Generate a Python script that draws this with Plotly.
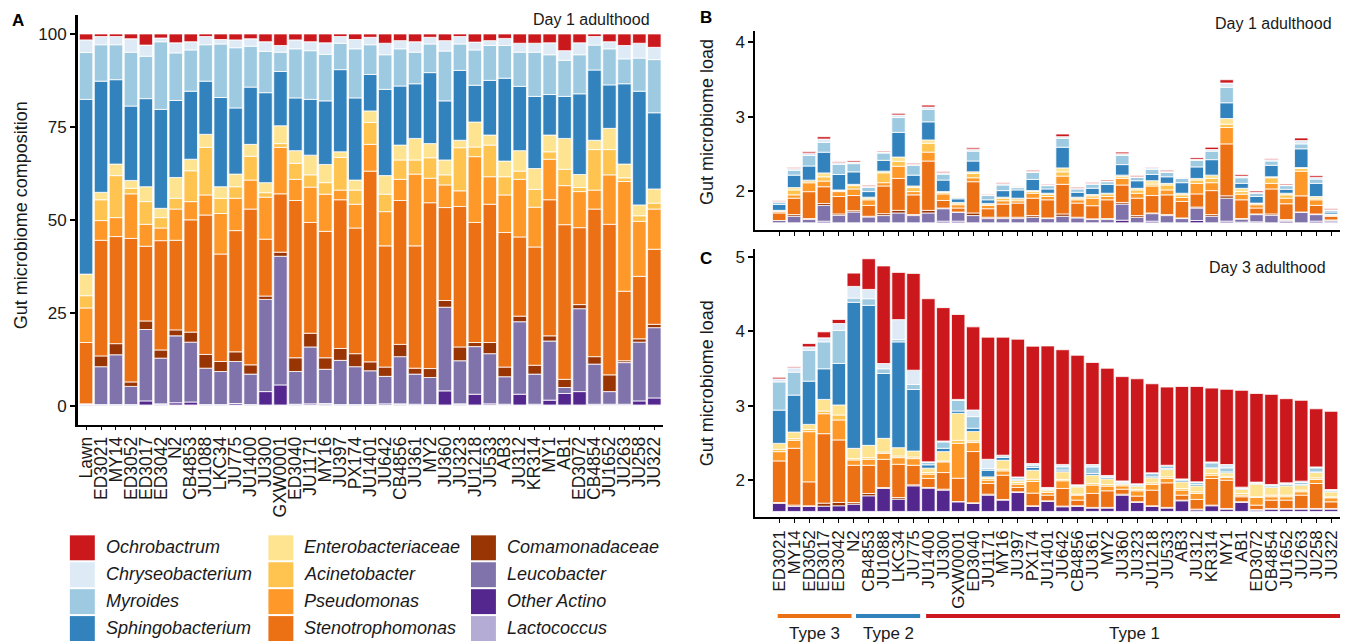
import numpy as np
import plotly.graph_objects as go

W, H = 1353, 644
OFF = 8  # default page margin of the html body
FONT = "Liberation Sans, Arial, sans-serif"

strains = ["ED3021", "MY14", "ED3052", "ED3017", "ED3042", "N2", "CB4853", "JU1088", "LKC34", "JU775",
           "JU1400", "JU300", "GXW0001", "ED3040", "JU1171", "MY16", "JU397", "PX174", "JU1401", "JU642",
           "CB4856", "JU361", "MY2", "JU360", "JU323", "JU1218", "JU533", "AB3", "JU312", "KR314",
           "MY1", "AB1", "ED3072", "CB4854", "JU1652", "JU263", "JU258", "JU322"]
a_labels = ["Lawn"] + strains

# stacking order, bottom -> top
taxa = ["Lactococcus", "Other Actino", "Leucobacter", "Comamonadaceae", "Stenotrophomonas", "Pseudomonas",
        "Acinetobacter", "Enterobacteriaceae", "Sphingobacterium", "Myroides", "Chryseobacterium", "Ochrobactrum"]
colors = {
    "Ochrobactrum": "#cb181d", "Chryseobacterium": "#deebf7", "Myroides": "#9ecae1", "Sphingobacterium": "#3182bd",
    "Enterobacteriaceae": "#fee391", "Acinetobacter": "#fec44f", "Pseudomonas": "#fe9929", "Stenotrophomonas": "#ec7014",
    "Comamonadaceae": "#993404", "Leucobacter": "#8073ac", "Other Actino": "#54278f", "Lactococcus": "#b4acd4",
}

# ---------------- Panel A: relative composition (%), Day 1 ----------------
A_lacto = [0.5, 0.3, 0.3, 0.3, 0.2, 0.3, 0.2, 0.2, 0.3, 0.3, 0.2, 0.3, 0.2, 0.2, 0.3, 0.2, 0.3, 0.3, 0.3, 0.3,
           0.2, 0.3, 0.2, 0.2, 0.2, 0.3, 0.2, 0.2, 0.2, 0.2, 0.2, 0.2, 0.2, 0.2, 0.2, 0.2, 0.2, 0.2, 0.2]
A_other = [0, 0, 0, 0, 1.1, 0.2, 0.6, 0.8, 0, 0, 0.4, 0, 3.6, 5.4, 0.1, 0.3, 0.3, 0, 0, 0,
           0.3, 0.2, 0.2, 0.1, 3.8, 0.2, 2.9, 0.3, 0.2, 2.9, 0.2, 1.3, 3.1, 3.6, 0.2, 0.2, 0.2, 1.1, 1.9]
A_leuco = [0, 10.2, 13.4, 4.9, 19.2, 12.3, 18.0, 16.1, 9.8, 8.9, 11.3, 8.2, 24.8, 34.6, 8.8, 15.3, 9.2, 11.9, 10.2, 9.1,
           7.4, 12.7, 8.1, 7.3, 22.5, 11.6, 12.8, 13.5, 7.4, 19.5, 8.1, 15.9, 1.6, 22.3, 10.8, 3.4, 11.2, 15.8, 18.9]
A_com = [0, 2.9, 3.0, 1.2, 2.3, 2.2, 1.6, 2.7, 3.7, 2.7, 2.6, 2.5, 0.9, 1.1, 3.7, 3.7, 3.1, 3.2, 3.5, 2.4,
         2.5, 3.3, 1.6, 2.4, 1.8, 3.7, 1.1, 3.0, 2.6, 1.5, 2.4, 1.4, 2.2, 1.1, 2.0, 4.5, 0.5, 0.9, 0.9]
A_steno = [16.5, 31.1, 28.8, 38.6, 20.1, 29.4, 24.1, 30.2, 37.5, 28.9, 32.6, 41.9, 15.3, 15.7, 42.3, 29.8, 34.0, 40.0, 33.8, 51.3,
           32.6, 38.7, 32.9, 44.6, 25.0, 37.8, 32.3, 37.2, 36.2, 21.3, 31.8, 36.6, 41.6, 20.7, 39.7, 40.5, 18.7, 16.8, 20.2]
A_pseudo = [9.3, 5.3, 5.1, 12.0, 5.9, 3.4, 8.4, 4.9, 5.4, 10.9, 8.7, 7.8, 11.3, 12.5, 5.7, 9.5, 10.0, 2.6, 6.4, 7.2,
            9.2, 5.7, 19.3, 6.6, 6.1, 4.2, 17.7, 7.4, 10.1, 15.5, 10.7, 10.9, 10.5, 9.7, 5.1, 13.3, 29.5, 14.8, 10.8]
A_acin = [3.3, 5.6, 11.3, 1.5, 6.1, 2.8, 2.9, 8.3, 12.8, 4.1, 3.1, 6.4, 1.2, 1.0, 4.3, 3.3, 3.1, 8.8, 3.8, 5.9,
          4.7, 5.2, 3.8, 5.5, 2.7, 11.6, 2.6, 8.5, 4.9, 2.2, 4.8, 2.0, 4.4, 1.1, 10.9, 6.8, 1.0, 1.5, 1.6]
A_entero = [5.8, 2.0, 3.1, 2.1, 4.0, 2.5, 5.6, 3.1, 3.5, 3.1, 3.4, 3.2, 2.7, 4.8, 3.4, 5.3, 4.9, 1.5, 2.7, 3.1,
            5.0, 4.0, 5.8, 3.8, 4.0, 2.0, 6.7, 2.7, 4.2, 5.5, 5.6, 4.5, 8.3, 3.5, 2.5, 5.7, 3.7, 2.9, 3.8]
A_sphingo = [47.0, 29.9, 22.7, 20.0, 23.7, 26.6, 20.7, 18.3, 14.3, 24.0, 17.8, 15.4, 24.2, 14.6, 14.2, 15.0, 17.1, 22.1, 22.1, 9.8,
             23.2, 15.9, 14.7, 19.1, 15.9, 18.8, 9.9, 14.7, 22.3, 17.3, 19.4, 10.9, 11.3, 21.7, 18.9, 11.7, 21.6, 30.6, 20.5]
A_myro = [12.6, 9.8, 9.4, 14.5, 11.4, 18.2, 12.8, 11.1, 9.8, 14.4, 16.2, 11.0, 11.1, 5.2, 13.2, 13.1, 12.5, 7.1, 13.2, 8.0,
          9.3, 10.0, 8.5, 7.7, 13.4, 7.1, 9.5, 9.4, 8.8, 9.2, 11.9, 10.7, 9.7, 10.5, 6.7, 9.7, 6.7, 8.9, 14.3]
A_chry = [3.4, 2.2, 2.2, 3.6, 3.0, 1.0, 2.7, 2.2, 2.2, 1.2, 2.1, 2.0, 2.6, 1.8, 2.4, 2.4, 3.1, 1.8, 2.5, 2.0,
          3.1, 2.2, 2.8, 1.8, 2.8, 2.0, 2.1, 1.3, 1.9, 2.4, 2.4, 3.2, 2.6, 3.2, 2.3, 1.9, 3.6, 4.0, 3.3]
A_ochro = [1.6, 0.7, 0.7, 1.3, 3.0, 1.1, 2.4, 2.1, 0.7, 1.5, 1.6, 1.3, 2.1, 3.1, 1.6, 2.1, 2.4, 0.7, 1.5, 0.9,
           2.5, 1.8, 2.1, 0.9, 1.8, 0.7, 2.2, 1.8, 1.2, 2.5, 2.5, 2.4, 4.5, 2.4, 0.7, 2.1, 3.1, 2.5, 3.6]

# ---------------- Panel B: load (log10), Day 1 ----------------
B_other = [0, 0, 0, .022, 0, 0, 0, 0, 0, 0, 0, .022, .022, 0, 0, 0, 0, 0, 0, 0,
           0, 0, 0, .035, 0, .022, 0, 0, .031, 0, .022, .009, .013, 0, .022, 0, .022, .013]
B_leuco = [.031, .088, .044, .211, .101, .145, .079, .097, .132, .097, .132, .167, .119, .097, .057, .057, .057, .075, .057, .088,
           .066, .044, .044, .216, .075, .101, .097, .057, .167, .088, .308, .040, .097, .101, .009, .141, .088, .022]
B_com = [0, .022, .013, .026, .018, .018, .009, .026, .035, .013, .035, .009, .004, .035, .018, .018, .018, .022, .009, .031,
         .009, .009, .013, .022, .022, .009, .013, .009, .013, .022, .031, .009, .009, .018, .013, .004, .009, .004]
B_steno = [.101, .220, .360, .224, .233, .202, .145, .370, .427, .264, .660, .101, .053, .418, .114, .176, .189, .233, .242, .396,
           .189, .176, .251, .233, .233, .233, .264, .220, .176, .321, .695, .250, .079, .334, .211, .216, .114, .048]
B_pseudo = [.018, .044, .119, .075, .066, .088, .075, .044, .163, .044, .119, .088, .044, .053, .044, .044, .031, .066, .044, .110,
            .044, .101, .044, .088, .066, .128, .066, .053, .141, .106, .220, .075, .044, .075, .075, .330, .075, .013]
B_acin = [.013, .066, .026, .057, .013, .044, .022, .132, .066, .053, .119, .018, .022, .057, .018, .035, .026, .022, .031, .057,
          .022, .031, .035, .022, .044, .026, .066, .035, .044, .057, .044, .035, .018, .075, .044, .035, .022, .009]
B_entero = [.004, .031, .009, .053, .009, .018, .013, .022, .057, .022, .044, .013, .009, .022, .009, .013, .009, .013, .013, .053,
            .013, .018, .009, .022, .022, .044, .022, .022, .022, .044, .075, .044, .004, .013, .022, .013, .022, .009]
B_sphingo = [.079, .167, .189, .277, .207, .167, .075, .145, .330, .145, .242, .154, .048, .145, .048, .088, .110, .150, .057, .277,
             .066, .084, .119, .141, .101, .084, .088, .141, .154, .207, .211, .066, .088, .154, .053, .251, .176, .026]
B_myro = [.031, .066, .141, .132, .136, .110, .057, .097, .198, .132, .167, .079, .018, .132, .057, .075, .031, .092, .044, .119,
          .044, .053, .035, .123, .044, .070, .057, .057, .088, .114, .207, .075, .044, .057, .048, .066, .057, .022]
B_chry = [.013, .022, .031, .044, .022, .022, .013, .013, .035, .013, .031, .018, .009, .026, .009, .018, .009, .018, .009, .022,
          .009, .009, .009, .022, .009, .022, .018, .009, .013, .022, .057, .022, .013, .018, .009, .044, .022, .009]
B_ochro = [.009, .013, .018, .031, .013, .018, .013, .013, .022, .013, .026, .013, .004, .018, .009, .013, .004, .013, .009, .035,
           .013, .013, .013, .022, .013, .009, .013, .004, .022, .031, .044, .022, .018, .013, .013, .035, .022, .013]

# ---------------- Panel C: load (log10), Day 3 ----------------
C_other = [.107, .067, .067, .071, .076, .098, .210, .308, .165, .344, .313, .286, .129, .107, .219, .152, .254, .067, .134, .063,
           .067, .045, .045, .219, .121, .067, .045, .143, .022, .076, .031, .121, .018, .031, .031, .031, .031, .031]
C_com = [.013, .018, .009, .040, .045, .022, .031, .013, .022, .013, .009, .013, .004, .009, .013, .009, .009, .009, .009, .009,
         .009, .009, .009, .013, .009, .009, .009, .009, .009, .009, .009, .009, .009, .009, .009, .009, .009, .009]
C_steno = [.558, .763, .321, .933, .839, .500, .379, .379, .446, .263, .121, .223, .313, .688, .143, .326, .058, .170, .076, .237,
           .076, .188, .223, .067, .076, .210, .330, .067, .130, .357, .379, .067, .058, .112, .112, .179, .335, .089]
C_pseudo = [.125, .107, .674, .268, .268, .071, .080, .080, .089, .089, .058, .143, .469, .121, .045, .058, .045, .156, .036, .103,
            .067, .112, .063, .045, .071, .076, .058, .067, .080, .045, .036, .022, .103, .045, .045, .045, .054, .054]
C_acin = [.031, .022, .031, .036, .067, .018, .022, .018, .022, .022, .022, .013, .040, .022, .022, .022, .022, .031, .022, .018,
          .013, .022, .022, .022, .018, .022, .022, .022, .022, .022, .018, .022, .009, .022, .022, .022, .022, .013]
C_entero = [.080, .089, .067, .156, .134, .138, .165, .183, .112, .080, .058, .125, .362, .125, .022, .121, .031, .121, .018, .103,
            .098, .112, .076, .009, .045, .067, .098, .089, .080, .067, .045, .054, .170, .103, .125, .067, .071, .067]
C_sphingo = [.446, .496, .580, .411, .558, 1.960, 1.880, .871, 1.420, .826, .045, .045, .031, .045, .089, .036, .013, .036, .009, .022,
             .009, .022, .018, .013, .013, .013, .013, .022, .018, .009, .013, .013, .009, .018, .018, .009, .009, .013]
C_myro = [.379, .308, .415, .362, .442, .058, .089, .063, .031, .067, .031, .085, .143, .156, .022, .022, .022, .031, .009, .045,
          .009, .089, .018, .013, .009, .045, .036, .009, .027, .067, .054, .009, .009, .013, .013, .027, .054, .009]
C_chry = [.040, .058, .045, .054, .094, .156, .125, .071, .268, .192, .009, .013, .013, .089, .125, .009, .009, .022, .009, .031,
          .009, .031, .009, .009, .009, .009, .009, .009, .009, .013, .045, .009, .009, .009, .009, .018, .013, .009]
C_ochro = [.022, .013, .045, .080, .054, .179, .411, 1.310, .634, 1.300, 2.190, 1.790, 1.140, 1.116, 1.640, 1.585, 1.850, 1.576, 1.900, 1.540,
           1.740, 1.370, 1.440, 1.400, 1.410, 1.196, 1.050, 1.240, 1.280, .991, 1.010, 1.300, 1.190, 1.210, 1.130, 1.085, .780, 1.050]

LOAD_BASE = 1.58  # lower end of the load bars (log10 scale)

A_data = {"Lactococcus": A_lacto, "Other Actino": A_other, "Leucobacter": A_leuco, "Comamonadaceae": A_com,
          "Stenotrophomonas": A_steno, "Pseudomonas": A_pseudo, "Acinetobacter": A_acin, "Enterobacteriaceae": A_entero,
          "Sphingobacterium": A_sphingo, "Myroides": A_myro, "Chryseobacterium": A_chry, "Ochrobactrum": A_ochro}
B_data = {"Other Actino": B_other, "Leucobacter": B_leuco, "Comamonadaceae": B_com,
          "Stenotrophomonas": B_steno, "Pseudomonas": B_pseudo, "Acinetobacter": B_acin, "Enterobacteriaceae": B_entero,
          "Sphingobacterium": B_sphingo, "Myroides": B_myro, "Chryseobacterium": B_chry, "Ochrobactrum": B_ochro}
C_data = {"Other Actino": C_other, "Comamonadaceae": C_com,
          "Stenotrophomonas": C_steno, "Pseudomonas": C_pseudo, "Acinetobacter": C_acin, "Enterobacteriaceae": C_entero,
          "Sphingobacterium": C_sphingo, "Myroides": C_myro, "Chryseobacterium": C_chry, "Ochrobactrum": C_ochro}

fig = go.Figure()


def add_panel(xa, ya, cats, data, base0):
    cum = np.full(len(cats), base0, dtype=float)
    for name in taxa:
        if name not in data:
            continue
        vals = np.asarray(data[name], dtype=float)
        fig.add_trace(go.Bar(
            x=cats, y=vals, base=cum.copy(), xaxis=xa, yaxis=ya, name=name, width=0.9,
            marker=dict(color=colors[name], line=dict(color="white", width=0.8)),
            showlegend=False, hoverinfo="x+y+name"))
        cum = cum + vals


add_panel("x", "y", a_labels, A_data, 0.0)
add_panel("x2", "y2", strains, B_data, LOAD_BASE)
add_panel("x3", "y3", strains, C_data, LOAD_BASE)


# screen pixel -> paper coordinates (figure sits OFF px from the page's top-left corner)
def px(x):
    return (x - OFF) / (W - OFF)


def py(y):
    return (H - y) / (H - OFF)


axis_common = dict(showline=True, linecolor="black", linewidth=2, showgrid=False, zeroline=False,
                   tickfont=dict(family=FONT, size=17, color="#1a1a1a"), tickcolor="black")

fig.update_layout(
    width=W - OFF, height=H - OFF, margin=dict(l=0, r=0, t=0, b=0),
    paper_bgcolor="white", plot_bgcolor="white", barmode="overlay",
    font=dict(family=FONT, color="#1a1a1a"),
    xaxis=dict(axis_common, domain=[px(76), px(662)], anchor="y", type="category", categoryorder="array",
               categoryarray=a_labels, range=[-0.55, 38.55], ticks="outside", ticklen=3, tickwidth=1,
               tickangle=-90, tickmode="array", tickvals=a_labels, ticktext=a_labels,
               tickfont=dict(family=FONT, size=17.5, color="#1a1a1a")),
    yaxis=dict(axis_common, domain=[py(424), py(13)], anchor="x", range=[-5.1, 105.1],
               tickvals=[0, 25, 50, 75, 100], ticks="outside", ticklen=5, tickwidth=2, linewidth=2.5),
    xaxis2=dict(axis_common, domain=[px(755), px(1341)], anchor="y2", type="category", categoryorder="array",
                categoryarray=strains, range=[-1.6, 37.6], ticks="outside", ticklen=4, tickwidth=1,
                tickmode="array", tickvals=strains, showticklabels=False),
    yaxis2=dict(axis_common, domain=[py(229), py(29)], anchor="x2", range=[1.48, 4.147],
                tickvals=[2, 3, 4], ticks="outside", ticklen=5, tickwidth=2),
    xaxis3=dict(axis_common, domain=[px(755), px(1341)], anchor="y3", type="category", categoryorder="array",
                categoryarray=strains, range=[-1.6, 37.6], ticks="outside", ticklen=4, tickwidth=1, tickangle=-90,
                tickmode="array", tickvals=strains, ticktext=strains,
                tickfont=dict(family=FONT, size=17, color="#1a1a1a")),
    yaxis3=dict(axis_common, domain=[py(517), py(248)], anchor="x3", range=[1.50, 5.10],
                tickvals=[2, 3, 4, 5], ticks="outside", ticklen=5, tickwidth=2),
)

ann = []
# panel letters
for letter, x, y in [("A", 16, 19), ("B", 706, 16), ("C", 706, 257)]:
    ann.append(dict(text=f"<b>{letter}</b>", x=px(x), y=py(y), xref="paper", yref="paper", showarrow=False,
                    xanchor="center", yanchor="middle", font=dict(family=FONT, size=17, color="black")))
# panel subtitles
for txt, x, y in [("Day 1 adulthood", 651, 18), ("Day 1 adulthood", 1335, 22), ("Day 3 adulthood", 1329, 266)]:
    ann.append(dict(text=txt, x=px(x), y=py(y), xref="paper", yref="paper", showarrow=False,
                    xanchor="right", yanchor="middle", font=dict(family=FONT, size=16, color="#1a1a1a")))
# y-axis titles
for txt, x, y in [("Gut microbiome composition", 19, 214), ("Gut microbiome load", 706, 120),
                  ("Gut microbiome load", 706, 382)]:
    ann.append(dict(text=txt, x=px(x), y=py(y), xref="paper", yref="paper", showarrow=False, textangle=-90,
                    xanchor="center", yanchor="middle", font=dict(family=FONT, size=18, color="#1a1a1a")))

shapes = []
# legend (3 columns x 4 rows)
legend_cols = [["Ochrobactrum", "Chryseobacterium", "Myroides", "Sphingobacterium"],
               ["Enterobacteriaceae", "Acinetobacter", "Pseudomonas", "Stenotrophomonas"],
               ["Comamonadaceae", "Leucobacter", "Other Actino", "Lactococcus"]]
col_x = [68, 267, 470]
for ci, col in enumerate(legend_cols):
    for ri, name in enumerate(col):
        top = 535 + ri * 27
        shapes.append(dict(type="rect", xref="paper", yref="paper", x0=px(col_x[ci]), x1=px(col_x[ci] + 25),
                           y0=py(top + 25), y1=py(top), fillcolor=colors[name], line=dict(width=0)))
        ann.append(dict(text=f"<i>{name}</i>", x=px(col_x[ci] + 34), y=py(top + 12), xref="paper", yref="paper",
                        showarrow=False, xanchor="left", yanchor="middle",
                        font=dict(family=FONT, size=18, color="#1a1a1a")))

# strain-type brackets under panel C
types = [("Type 3", -0.1, 4.85, "#ec7014"), ("Type 2", 5.15, 9.45, "#3182bd"), ("Type 1", 9.85, 37.8, "#cb181d")]
for label, x0, x1, col in types:
    shapes.append(dict(type="line", xref="x3", yref="paper", x0=x0, x1=x1, y0=py(616), y1=py(616),
                       line=dict(color=col, width=4)))
    ann.append(dict(text=label, x=(x0 + x1) / 2, y=py(633), xref="x3", yref="paper", showarrow=False,
                    xanchor="center", yanchor="middle", font=dict(family=FONT, size=17, color="#1a1a1a")))

fig.update_layout(annotations=ann, shapes=shapes)
fig.write_html("out.html")
